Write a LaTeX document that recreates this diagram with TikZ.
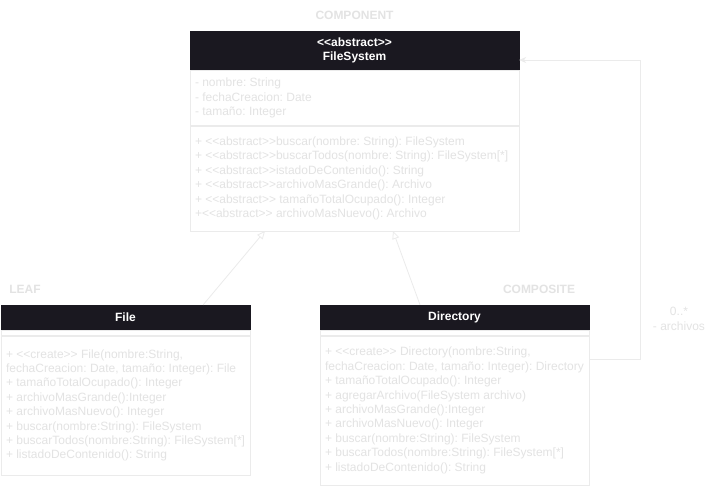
\documentclass[tikz,border=0pt]{standalone}
\usepackage{fontspec}
\setmainfont{Liberation Sans}
\usetikzlibrary{positioning,arrows.meta}
\definecolor{hdrdark}{HTML}{1A1820}
\definecolor{faint}{HTML}{E3E3E3}
\definecolor{edge}{HTML}{EBEBEB}
\newcommand{\stereo}[1]{<\kern0pt<#1>\kern0pt>}
\frenchspacing
\tikzset{
  hdr/.style={draw=hdrdark,fill=hdrdark,text=white,font=\bfseries\fontsize{12}{14.4}\selectfont,align=center,inner sep=0pt},
  sepbar/.style={draw=edge,fill=white,inner sep=0pt},
  sect/.style={draw=edge,fill=white,inner sep=0pt},
  txt/.style={text=faint,font=\fontsize{12}{14.4}\selectfont,align=left,inner xsep=5pt,inner ysep=0pt,anchor=west},
  role/.style={text=faint,font=\bfseries\fontsize{12}{14.4}\selectfont},
  lbl/.style={text=faint,font=\fontsize{12}{14.4}\selectfont,align=center},
  gen/.style={draw=edge,line width=0.8pt,-{Triangle[open,length=8pt,width=7pt]}},
  assoc/.style={draw=edge,line width=0.8pt,-{Stealth[length=7pt,width=6pt]}}
}
\begin{document}
\begin{tikzpicture}[x=1pt,y=-1pt]
\fill[white] (0,0) rectangle (718,488);
\useasboundingbox (0,0) rectangle (718,488);
% FileSystem (component)
\node[hdr,minimum width=329,minimum height=39] (fs) at (354.5,50.5) {\stereo{abstract}\\FileSystem};
\node[sect,minimum width=329,minimum height=55,below=0pt of fs] (fsattr) {};
\node[txt] (fsattrtxt) at (fsattr.west) {- nombre: String\\- fechaCreacion: Date\\- tamaño: Integer};
\node[sect,minimum width=329,minimum height=105,below=0pt of fsattr] (fsmeth) {};
\node[txt] (fsmethtxt) at (fsmeth.west) {+ \stereo{abstract}buscar(nombre: String): FileSystem\\
+ \stereo{abstract}buscarTodos(nombre: String): FileSystem[*]\\
+ \stereo{abstract}istadoDeContenido(): String\\
+ \stereo{abstract}archivoMasGrande(): Archivo\\
+ \stereo{abstract} tamañoTotalOcupado(): Integer\\
+\stereo{abstract} archivoMasNuevo(): Archivo};
% File (leaf)
\node[hdr,minimum width=249,minimum height=25] (file) at (125.5,317.5) {File};
\node[sepbar,minimum width=249,minimum height=5,below=0pt of file] (filesep) {};
\node[sect,minimum width=249,minimum height=139,below=0pt of filesep] (filebody) {};
\node[txt] (filetxt) at (filebody.west) {+ \stereo{create} File(nombre:String,\\
fechaCreacion: Date, tamaño: Integer): File\\
+ tamañoTotalOcupado(): Integer\\
+ archivoMasGrande():Integer\\
+ archivoMasNuevo(): Integer\\
+ buscar(nombre:String): FileSystem\\
+ buscarTodos(nombre:String): FileSystem[*]\\
+ listadoDeContenido(): String};
% Directory (composite)
\node[hdr,minimum width=269,minimum height=25] (dir) at (454.5,317.5) {Directory};
\node[sepbar,minimum width=269,minimum height=5,below=0pt of dir] (dirsep) {};
\node[sect,minimum width=269,minimum height=149,below=0pt of dirsep] (dirbody) {};
\node[txt] (dirtxt) at (dirbody.west) {+ \stereo{create} Directory(nombre:String,\\
fechaCreacion: Date, tamaño: Integer): Directory\\
+ tamañoTotalOcupado(): Integer\\
+ agregarArchivo(FileSystem archivo)\\
+ archivoMasGrande():Integer\\
+ archivoMasNuevo(): Integer\\
+ buscar(nombre:String): FileSystem\\
+ buscarTodos(nombre:String): FileSystem[*]\\
+ listadoDeContenido(): String};
% Pattern roles
\node[role] (compo) at (354.5,15) {COMPONENT};
\node[role] (leaf) at (25,289) {LEAF};
\node[role] (comps) at (539,289) {COMPOSITE};
% Generalization
\draw[gen] ([xshift=-47pt]file.north east) -- ([xshift=-89.5pt]fsmeth.south);
\draw[gen] ([xshift=-34.5pt]dir.north) -- ([xshift=38.5pt]fsmeth.south);
% Association
\draw[assoc] ([yshift=50.5pt]dirbody.east) -- ++(51,0) |- ([yshift=-9.5pt]fs.east);
\node[lbl] (mult) at (679,319) {0..*\\- archivos};
\end{tikzpicture}
\end{document}
